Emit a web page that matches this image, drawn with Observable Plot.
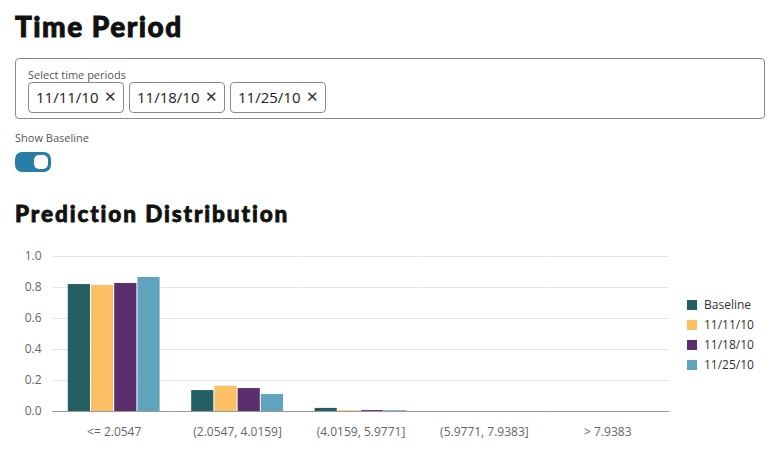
<!DOCTYPE html>
<html>
<head>
<meta charset="utf-8">
<script src="https://cdn.jsdelivr.net/npm/d3@7"></script>
<script src="https://cdn.jsdelivr.net/npm/@observablehq/plot@0.6"></script>
<style>
  html, body { margin: 0; padding: 0; background: #fff; width: 776px; height: 450px; overflow: hidden; }
  body { position: relative; font-family: "Open Sans", "Noto Sans", sans-serif; color: #222; }
  .h1 { position: absolute; left: 15px; top: 6px; font-family: Lato, "DejaVu Sans", sans-serif; font-weight: 900; font-size: 28px; line-height: 40px; color: #111; margin: 0; letter-spacing: 1.5px; -webkit-text-stroke: 0.9px #111; }
  .h2 { position: absolute; left: 15px; top: 198px; font-family: Lato, "DejaVu Sans", sans-serif; font-weight: 900; font-size: 22.5px; line-height: 32px; color: #111; margin: 0; letter-spacing: 1.9px; -webkit-text-stroke: 0.8px #111; }
  .select { position: absolute; left: 15px; top: 58px; width: 748px; height: 59px; border: 1px solid #8a8a8a; border-radius: 4px; box-sizing: content-box; }
  .select-label { position: absolute; left: 12px; top: 9px; font-size: 11px; color: #555; line-height: 14px; }
  .chip { position: absolute; top: 23px; height: 29px; width: 80px; border: 1px solid #8a8a8a; border-radius: 4px; font-size: 15px; line-height: 29px; padding: 0 7px; color: #222; white-space: nowrap; }
  .chip .x { position: absolute; right: 6px; top: 0; font-family: "DejaVu Sans", sans-serif; font-size: 15px; font-weight: 300; color: #333; }
  .show { position: absolute; left: 15px; top: 131px; font-size: 11px; color: #555; line-height: 14px; }
  .toggle { position: absolute; left: 15px; top: 152px; width: 36px; height: 20px; border-radius: 7px; background: #2a7ea6; }
  .knob { position: absolute; right: 3px; top: 3px; width: 14px; height: 14px; border-radius: 5px; background: #fff; }
  #chart { position: absolute; left: 0; top: 240px; }
  .legend { position: absolute; left: 687px; top: 295px; font-size: 12px; color: #333; }
  .legend-row { height: 20px; line-height: 20px; white-space: nowrap; }
  .legend-sw { display: inline-block; width: 10px; height: 10px; vertical-align: -1px; margin-right: 7px; }
</style>
</head>
<body>
<div class="h1">Time Period</div>
<div class="select">
  <div class="select-label">Select time periods</div>
  <div id="chips"></div>
</div>
<div class="show">Show Baseline</div>
<div class="toggle"><div class="knob"></div></div>
<div class="h2">Prediction Distribution</div>
<div id="chart"></div>
<div class="legend" id="legend"></div>
<script>
const categories = ["<= 2.0547", "(2.0547, 4.0159]", "(4.0159, 5.9771]", "(5.9771, 7.9383]", "> 7.9383"];
const seriesNames = ["Baseline", "11/11/10", "11/18/10", "11/25/10"];
const selectedPeriods = ["11/11/10", "11/18/10", "11/25/10"];
const baselineValues = [0.819, 0.135, 0.020, 0, 0];
const values111110 = [0.813, 0.163, 0.005, 0, 0];
const values111810 = [0.826, 0.148, 0.006, 0, 0];
const values112510 = [0.865, 0.110, 0.005, 0, 0];
const seriesColors = ["#245f62", "#fbc064", "#5a2e6d", "#5fa3bd"];
const yTicks = [0, 0.2, 0.4, 0.6, 0.8, 1.0];

const seriesValues = [baselineValues, values111110, values111810, values112510];
const rows = [];
categories.forEach((c, i) => {
  seriesNames.forEach((s, j) => rows.push({category: c, series: s, value: seriesValues[j][i]}));
});

// chips
const chipLefts = [12, 113, 214];
const chipsEl = document.getElementById("chips");
selectedPeriods.forEach((p, i) => {
  const d = document.createElement("div");
  d.className = "chip";
  d.style.left = chipLefts[i] + "px";
  d.appendChild(document.createTextNode(p));
  const x = document.createElement("span");
  x.className = "x";
  x.textContent = "\u2715";
  d.appendChild(x);
  chipsEl.appendChild(d);
});

const chart = Plot.plot({
  width: 776,
  height: 205,
  marginTop: 16,
  marginLeft: 52,
  marginRight: 107,
  marginBottom: 34,
  style: {fontFamily: "'Open Sans', 'Noto Sans', sans-serif", fontSize: "12px", color: "#666", background: "transparent", overflow: "visible"},
  fx: {domain: categories, paddingInner: 0, paddingOuter: 0, round: false, label: null, tickSize: 0, tickPadding: 16, axis: "bottom"},
  x: {domain: seriesNames, paddingInner: 0.045, paddingOuter: 0.68, round: false, axis: null},
  y: {domain: [0, 1], ticks: yTicks, tickFormat: ".1f", tickSize: 0, tickPadding: 11, label: null},
  color: {domain: seriesNames, range: seriesColors},
  marks: [
    Plot.ruleY(yTicks.slice(1), {stroke: "#e6e6e6"}),
    Plot.barY(rows, {fx: "category", x: "series", y: "value", fill: "series"}),
    Plot.ruleY([0], {stroke: "#9a9a9a"})
  ]
});
document.getElementById("chart").appendChild(chart);

const colorScale = chart.scale("color");
const legendEl = document.getElementById("legend");
seriesNames.forEach(s => {
  const r = document.createElement("div");
  r.className = "legend-row";
  const sw = document.createElement("span");
  sw.className = "legend-sw";
  sw.style.background = colorScale.apply(s);
  r.appendChild(sw);
  r.appendChild(document.createTextNode(s));
  legendEl.appendChild(r);
});
</script>
</body>
</html>
